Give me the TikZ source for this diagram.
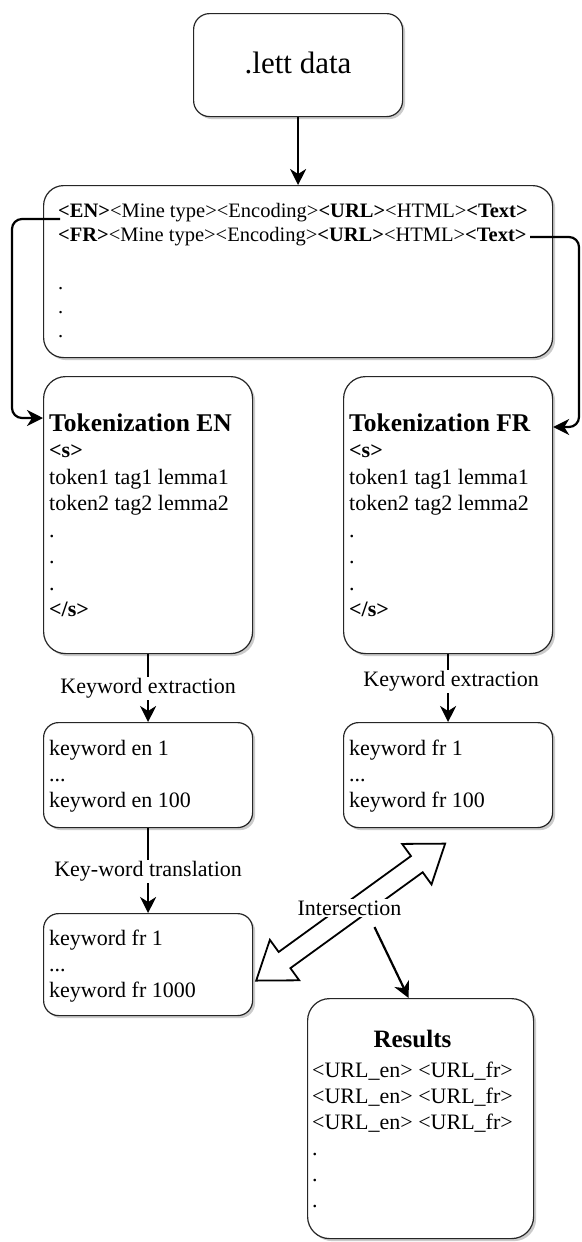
\documentclass[tikz,border=0pt]{standalone}
\usepackage{fontspec}
\setmainfont{Liberation Serif}
\usetikzlibrary{arrows.meta,shadows}
\begin{document}
\begin{tikzpicture}[x=1pt,y=-1pt,
  box/.style={draw=black!85,line width=1.2pt,fill=white,rounded corners=#1,
    drop shadow={shadow xshift=2.5pt,shadow yshift=-2.5pt,fill=black!40,opacity=0.5},
    anchor=north west,inner sep=0pt},
  box/.default=15pt,
  body/.style={anchor=base west,inner sep=0pt,font=\fontsize{22}{26.5}\selectfont},
  lbl/.style={fill=white,inner sep=1.5pt,font=\fontsize{22}{26}\selectfont},
  arr/.style={line width=2.2pt,-{Stealth[length=16pt,width=16pt,inset=5pt]}},
  hollow/.style={draw=black,line width=1.8pt,fill=white,line join=miter},
]
\useasboundingbox[fill=white] (0,0) rectangle (581,1242);

% ---- boxes ----
\node[box=16pt,minimum width=209pt,minimum height=103pt] (lett) at (193,13) {};
\node[box=20pt,minimum width=509pt,minimum height=172pt] (src) at (43,185) {};
\node[box=22pt,minimum width=209pt,minimum height=277pt] (tokEN) at (43,376) {};
\node[box=22pt,minimum width=209pt,minimum height=277pt] (tokFR) at (343,376) {};
\node[box,minimum width=209pt,minimum height=105pt] (kwEN) at (43,722) {};
\node[box,minimum width=209pt,minimum height=105pt] (kwFR) at (343,722) {};
\node[box,minimum width=209pt,minimum height=102pt] (kwTR) at (43,913) {};
\node[box=22pt,minimum width=226pt,minimum height=240pt] (res) at (307,998) {};

% ---- box contents ----
\node[font=\fontsize{31}{37}\selectfont] (lettTxt) at ([yshift=2.5pt]lett.center) {.lett data};

\node[body,font=\fontsize{20.5}{24}\selectfont] (srcTxt) at (58,217) {%
  \begin{tabular}[t]{@{}l@{}}
  \textbf{<EN>}<Mine type><Encoding>\textbf{<URL>}<HTML>\textbf{<Text>}\\
  \textbf{<FR>}<Mine type><Encoding>\textbf{<URL>}<HTML>\textbf{<Text>}\\
  \\
  .\\
  .\\
  .
  \end{tabular}};

\node[body] (tokENTxt) at (49,431) {%
  \begin{tabular}[t]{@{}l@{}}
  {\fontsize{25.5}{30}\selectfont\bfseries Tokenization EN}\\
  \textbf{<s>}\\
  token1 tag1 lemma1\\
  token2 tag2 lemma2\\
  .\\
  .\\
  .\\
  \textbf{</s>}
  \end{tabular}};

\node[body] (tokFRTxt) at (349,431) {%
  \begin{tabular}[t]{@{}l@{}}
  {\fontsize{25.5}{30}\selectfont\bfseries Tokenization FR}\\
  \textbf{<s>}\\
  token1 tag1 lemma1\\
  token2 tag2 lemma2\\
  .\\
  .\\
  .\\
  \textbf{</s>}
  \end{tabular}};

\node[body,font=\fontsize{22}{26}\selectfont] (kwENTxt) at (49,755) {%
  \begin{tabular}[t]{@{}l@{}}
  keyword en 1\\
  ...\\
  keyword en 100
  \end{tabular}};

\node[body,font=\fontsize{22}{26}\selectfont] (kwFRTxt) at (349,755) {%
  \begin{tabular}[t]{@{}l@{}}
  keyword fr 1\\
  ...\\
  keyword fr 100
  \end{tabular}};

\node[body,font=\fontsize{22}{26}\selectfont] (kwTRTxt) at (49,945) {%
  \begin{tabular}[t]{@{}l@{}}
  keyword fr 1\\
  ...\\
  keyword fr 1000
  \end{tabular}};

\node[body,font=\fontsize{22}{26}\selectfont] (resTxt) at (312,1047) {%
  \begin{tabular}[t]{@{}l@{}}
  \multicolumn{1}{@{}c@{}}{\fontsize{25}{30}\selectfont\bfseries Results}\\[4pt]
  <URL\_en> <URL\_fr>\\
  <URL\_en> <URL\_fr>\\
  <URL\_en> <URL\_fr>\\
  .\\
  .\\
  .
  \end{tabular}};

% ---- connectors ----
\draw[arr] (lett.south) -- (src.north);

\coordinate (enOut) at (60,219);
\coordinate (frOut) at (530,237);
\draw[arr,rounded corners=10pt] (enOut) -- (12,219) -- (12,418)
  -- ([yshift=-42pt]tokEN.north west);
\draw[arr,rounded corners=10pt] (frOut) -- (579,237) -- (579,427)
  -- ([yshift=-51pt]tokFR.north east);

\draw[arr] (tokEN.south) -- node[lbl] (exEN) {Keyword extraction} (kwEN.north);
\draw[arr] (tokFR.south) -- node[lbl,xshift=3pt,yshift=6.5pt] (exFR) {Keyword extraction} (kwFR.north);
\draw[arr] (kwEN.south) -- node[lbl,yshift=-1pt] (trans) {Key-word translation} (kwTR.north);

% ---- hollow two-headed arrow between the keyword lists ----
\coordinate (ia) at ([xshift=3pt,yshift=-16pt]kwTR.east);
\coordinate (ib) at ([xshift=-3.5pt,yshift=-16pt]kwFR.south);
\begin{scope}[shift={(ia)},rotate=35.94]
  \draw[hollow] (0pt,0pt) -- (35pt,25pt) -- (35pt,10pt) -- (198.4pt,10pt)
    -- (198.4pt,25pt) -- (233.4pt,0pt) -- (198.4pt,-25pt) -- (198.4pt,-10pt)
    -- (35pt,-10pt) -- (35pt,-25pt) -- cycle;
\end{scope}

\node[lbl] (isect) at (349.5,908) {Intersection};
\draw[arr] ([xshift=25pt,yshift=-10pt]isect.south) -- ([xshift=-12pt]res.north);

\end{tikzpicture}
\end{document}
